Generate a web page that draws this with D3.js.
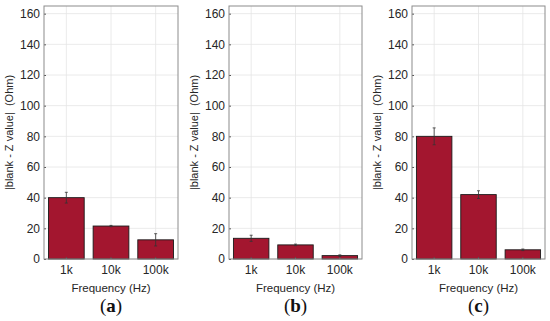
<!DOCTYPE html>
<html>
<head>
<meta charset="utf-8">
<script src="https://cdn.jsdelivr.net/npm/d3@7"></script>
<style>
  body { margin: 0; background: #fff; }
  svg { display: block; }
</style>
</head>
<body>
<svg id="chart" width="550" height="321"></svg>
<script>
// data
const frequencies = ['1k', '10k', '100k'];
const yTicks = [0, 20, 40, 60, 80, 100, 120, 140, 160];
const valuesA = [40, 21.5, 12.5];
const errorsA = [3.5, 0.4, 4];
const valuesB = [13.5, 9.2, 2.2];
const errorsB = [2, 0.5, 0.5];
const valuesC = [80, 42, 6];
const errorsC = [5.5, 2.5, 0.5];
const captions = ['a', 'b', 'c'];

const panels = [
  { left: 44, right: 178, values: valuesA, errors: errorsA, caption: captions[0] },
  { left: 229, right: 362, values: valuesB, errors: errorsB, caption: captions[1] },
  { left: 412, right: 545, values: valuesC, errors: errorsC, caption: captions[2] }
];

const plotTop = 6, plotBottom = 259;
const barColor = '#a3162f';
const font = '"Liberation Sans", Arial, Helvetica, sans-serif';

const svg = d3.select('#chart');

const y = d3.scaleLinear()
  .domain([0, 165])
  .range([plotBottom, plotTop]);

panels.forEach(p => {
  const g = svg.append('g');

  const x = d3.scaleBand()
    .domain(frequencies)
    .range([p.left, p.right])
    .paddingInner(0.2)
    .paddingOuter(0.1);

  // grid
  g.selectAll('line.hgrid')
    .data(yTicks)
    .enter().append('line')
    .attr('x1', p.left).attr('x2', p.right)
    .attr('y1', d => y(d)).attr('y2', d => y(d))
    .attr('stroke', '#e4e4e4')
    .attr('stroke-width', 0.8);
  g.selectAll('line.vgrid')
    .data(frequencies)
    .enter().append('line')
    .attr('x1', d => x(d) + x.bandwidth() / 2)
    .attr('x2', d => x(d) + x.bandwidth() / 2)
    .attr('y1', plotTop).attr('y2', plotBottom)
    .attr('stroke', '#e4e4e4')
    .attr('stroke-width', 0.8);

  // bars
  g.selectAll('rect.bar')
    .data(p.values)
    .enter().append('rect')
    .attr('x', (d, i) => x(frequencies[i]))
    .attr('y', d => y(d))
    .attr('width', x.bandwidth())
    .attr('height', d => y(0) - y(d))
    .attr('fill', barColor)
    .attr('stroke', '#1a1a1a')
    .attr('stroke-width', 0.9);

  // error bars
  p.values.forEach((v, i) => {
    const cx = x(frequencies[i]) + x.bandwidth() / 2;
    const e = p.errors[i];
    g.append('line')
      .attr('x1', cx).attr('x2', cx)
      .attr('y1', y(v - e)).attr('y2', y(v + e))
      .attr('stroke', '#333').attr('stroke-width', 0.8);
    [v - e, v + e].forEach(w => {
      g.append('line')
        .attr('x1', cx - 1.5).attr('x2', cx + 1.5)
        .attr('y1', y(w)).attr('y2', y(w))
        .attr('stroke', '#333').attr('stroke-width', 0.8);
    });
  });

  // y axis
  const yAxis = g.append('g')
    .attr('transform', 'translate(' + p.left + ',0)')
    .call(d3.axisLeft(y).tickValues(yTicks).tickSizeInner(-2).tickSizeOuter(0).tickPadding(4));
  yAxis.select('.domain').remove();
  yAxis.selectAll('.tick line').attr('stroke', '#555');
  yAxis.selectAll('text')
    .attr('font-family', font)
    .attr('font-size', 12)
    .attr('fill', '#262626');

  // x axis
  const xAxis = g.append('g')
    .attr('transform', 'translate(0,' + plotBottom + ')')
    .call(d3.axisBottom(x).tickSizeInner(-2).tickSizeOuter(0).tickPadding(6));
  xAxis.select('.domain').remove();
  xAxis.selectAll('.tick line').attr('stroke', '#555');
  xAxis.selectAll('text')
    .attr('font-family', font)
    .attr('font-size', 12)
    .attr('fill', '#262626');

  // box
  g.append('rect')
    .attr('x', p.left).attr('y', plotTop)
    .attr('width', p.right - p.left).attr('height', plotBottom - plotTop)
    .attr('fill', 'none')
    .attr('stroke', '#8c8c8c')
    .attr('stroke-width', 1);

  // axis labels
  const cxm = (p.left + p.right) / 2;
  g.append('text')
    .attr('x', cxm).attr('y', 292)
    .attr('text-anchor', 'middle')
    .attr('font-family', font)
    .attr('font-size', 11.5)
    .attr('fill', '#262626')
    .text('Frequency (Hz)');

  g.append('text')
    .attr('transform', 'translate(' + (p.left - 31) + ',' + ((plotTop + plotBottom) / 2) + ') rotate(-90)')
    .attr('text-anchor', 'middle')
    .attr('font-family', font)
    .attr('font-size', 11)
    .attr('fill', '#262626')
    .attr('xml:space', 'preserve')
    .text('|blank - Z value|  (Ohm)');

  // caption
  const cap = g.append('text')
    .attr('x', cxm).attr('y', 312)
    .attr('text-anchor', 'middle')
    .attr('font-family', '"Liberation Serif", "Times New Roman", serif')
    .attr('font-size', 19)
    .attr('fill', '#111');
  cap.append('tspan').text('(');
  cap.append('tspan').attr('font-weight', 'bold').text(p.caption);
  cap.append('tspan').text(')');
});
</script>
</body>
</html>
